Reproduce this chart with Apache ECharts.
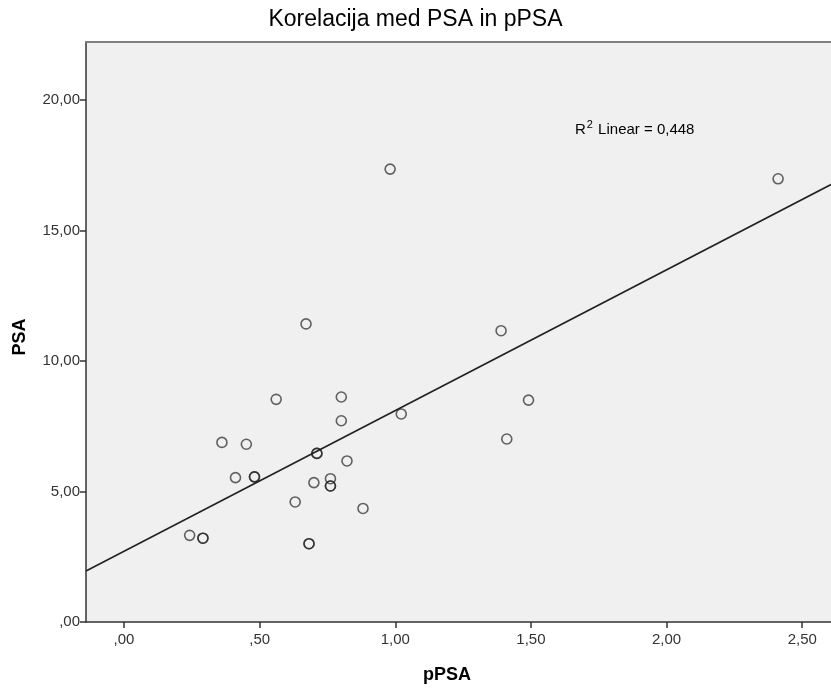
<!DOCTYPE html>
<html>
<head>
<meta charset="utf-8">
<script src="https://cdn.jsdelivr.net/npm/echarts@6/dist/echarts.min.js"></script>
<style>
html,body{margin:0;padding:0;background:#fff;}
#chart{width:831px;height:688px;}
</style>
</head>
<body>
<div id="chart"></div>
<script>
// pPSA (x) values
const pPSA = [0.671, 0.561, 0.801, 0.801, 1.022, 0.361, 0.451, 0.711, 0.711, 0.822, 0.411, 0.481, 0.481,
  0.700, 0.761, 0.761, 0.761, 0.631, 0.881, 0.242, 0.291, 0.291, 0.682, 0.682, 0.981, 2.411, 1.390, 1.491, 1.411];
// PSA (y) values
const PSA = [11.42, 8.53, 8.62, 7.71, 7.97, 6.88, 6.81, 6.46, 6.46, 6.17, 5.53, 5.56, 5.56,
  5.34, 5.49, 5.21, 5.21, 4.60, 4.35, 3.32, 3.21, 3.21, 3.00, 3.00, 17.35, 16.98, 11.16, 8.50, 7.01];
// Linear fit line endpoints [pPSA, PSA]
const fitLineX = [-0.14, 2.606];
const fitLineY = [1.955, 16.76];
const xTicks = [0, 0.5, 1.0, 1.5, 2.0, 2.5];
const yTicks = [0, 5, 10, 15, 20];
const titleText = 'Korelacija med PSA in pPSA';
const xName = 'pPSA';
const yName = 'PSA';
const r2Label = '0,448';

const fmt = v => {
  let s = Number(v).toFixed(2).replace('.', ',');
  if (s.startsWith('0,')) s = s.slice(1);
  return s;
};
const FONT = "'Liberation Sans', Arial, sans-serif";

const chart = echarts.init(document.getElementById('chart'));
chart.setOption({
  animation: false,
  backgroundColor: '#ffffff',
  title: {
    text: titleText, left: 'center', top: 3,
    textStyle: { fontFamily: FONT, fontSize: 23, fontWeight: 'normal', color: '#000' }
  },
  grid: {
    left: 86, top: 42, right: 0, bottom: 66,
    show: true, backgroundColor: '#f0f0f0', borderWidth: 0,
    outerBoundsMode: 'none', containLabel: false
  },
  xAxis: [{
    type: 'value', min: -0.14, max: 2.606, position: 'bottom',
    axisLine: { show: true, onZero: false, lineStyle: { color: '#333', width: 1.5 } },
    axisTick: { show: true, customValues: xTicks, length: 6, lineStyle: { color: '#333', width: 1.5 } },
    axisLabel: { customValues: xTicks, formatter: fmt, color: '#333', fontFamily: FONT, fontSize: 15, margin: 10 },
    splitLine: { show: false }
  }, {
    type: 'value', min: -0.14, max: 2.606, position: 'top',
    axisLine: { show: true, onZero: false, lineStyle: { color: '#7f7f7f', width: 2 } },
    axisTick: { show: false }, axisLabel: { show: false }, splitLine: { show: false }
  }],
  yAxis: {
    type: 'value', min: 0, max: 22.22,
    axisLine: { show: true, onZero: false, lineStyle: { color: '#333', width: 1.5 } },
    axisTick: { show: true, customValues: yTicks, length: 6, lineStyle: { color: '#333', width: 1.5 } },
    axisLabel: { customValues: yTicks, formatter: fmt, color: '#333', fontFamily: FONT, fontSize: 15, margin: 6 },
    splitLine: { show: false }
  },
  graphic: [
    { type: 'text', x: 447, y: 675, style: { text: xName, fontFamily: FONT, fontSize: 18, fontWeight: 'bold', fill: '#000', align: 'center', verticalAlign: 'middle' } },
    { type: 'text', x: 20, y: 337, rotation: Math.PI / 2, style: { text: yName, fontFamily: FONT, fontSize: 18, fontWeight: 'bold', fill: '#000', align: 'center', verticalAlign: 'middle' } },
    { type: 'text', x: 575, y: 128, style: {
        text: '{r|R}{s|2}{r| Linear = ' + r2Label + '}',
        verticalAlign: 'middle',
        rich: {
          r: { fontFamily: FONT, fontSize: 15, fill: '#000', verticalAlign: 'bottom' },
          s: { fontFamily: FONT, fontSize: 11, fill: '#000', verticalAlign: 'top', padding: [0,1,7,1] }
        }
      } }
  ],
  series: [{
    type: 'scatter', xAxisIndex: 0,
    data: pPSA.map((x, i) => [x, PSA[i]]),
    symbol: 'circle', symbolSize: 10,
    itemStyle: { color: 'rgba(0,0,0,0)', borderColor: 'rgba(30,30,30,0.85)', borderWidth: 1.6 },
    z: 3
  }, {
    type: 'line', xAxisIndex: 0,
    data: fitLineX.map((x, i) => [x, fitLineY[i]]),
    showSymbol: false, symbol: 'none', silent: true,
    lineStyle: { color: '#222', width: 1.6 },
    z: 2
  }]
});
</script>
</body>
</html>
